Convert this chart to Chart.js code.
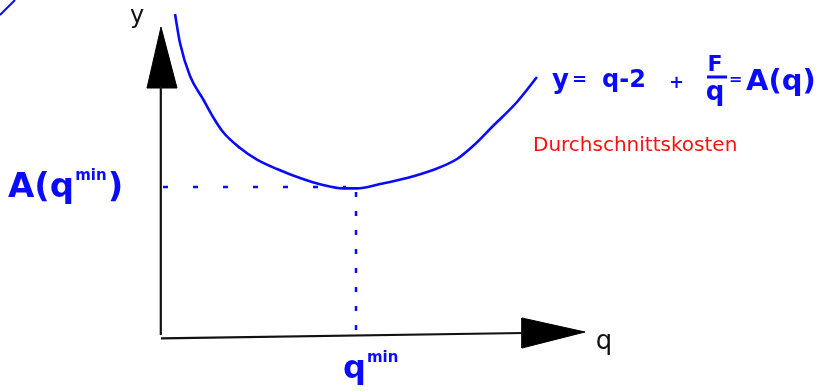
<!DOCTYPE html>
<html>
<head>
<meta charset="utf-8">
<script src="https://cdn.jsdelivr.net/npm/chart.js@4.4.0/dist/chart.umd.min.js"></script>
<style>
    html, body { margin: 0; padding: 0; background: #fff; }
    #wrap { width: 823px; height: 391px; position: relative; }
</style>
</head>
<body>
<div id="wrap"><canvas id="costChart"></canvas></div>
<script>
const curveQ = [0.75, 1.0, 1.5, 2.15, 2.65, 3.15, 4.0, 4.85, 5.85, 7.0, 8.15, 9.15, 9.85, 11.0, 12.35, 13.65, 14.85, 15.65, 16.65, 17.85, 18.85];
const curveA = [16.2, 14.75, 13.1, 11.95, 11.05, 10.3, 9.5, 8.92, 8.45, 8.0, 7.65, 7.48, 7.48, 7.7, 8.0, 8.4, 8.95, 9.6, 10.6, 11.8, 13.05];

const qMin = 9.8;
const aMin = 7.55;

// Achsen und Pfeilspitzen
const xAxisQ = [0.05, 18.2];
const xAxisY = [-0.02, 0.25];
const yAxisQ = [0.04, 0.04];
const yAxisY = [0.15, 12.6];
const xArrowQ = [21.25, 18.1, 18.1, 21.25];
const xArrowY = [0.3, 1.0, -0.5, 0.3];
const yArrowQ = [0.05, -0.65, 0.85, 0.05];
const yArrowY = [15.55, 12.5, 12.5, 15.55];

// kleiner Strich oben links
const strokeQ = [-8, -7.25];
const strokeY = [16.15, 16.9];

const toPoints = (xs, ys) => xs.map((v, i) => ({ x: v, y: ys[i] }));

const BLUE = '#0a0aff';
const RED = '#ff1010';
const INK = '#111111';
const HAND = '"DejaVu Sans", sans-serif';

// Beschriftungen (Position in Einheiten)
const labels = [
    { x: -1.15, y: 16.05, align: 'center', color: INK, parts: [{ t: 'y', size: 24, weight: 'normal' }] },
    { x: 22.2, y: -0.2, align: 'center', color: INK, parts: [{ t: 'q', size: 26, weight: 'normal' }] },
    { x: -7.6, y: 7.5, color: BLUE, parts: [{ t: 'A(q', size: 34 }, { t: 'min', size: 15, up: 12 }, { t: ')', size: 34 }] },
    { x: 9.15, y: -1.6, color: BLUE, parts: [{ t: 'q', size: 32 }, { t: 'min', size: 15, up: 12 }] },
    { x: 19.6, y: 12.85, color: BLUE, parts: [{ t: 'y', size: 26 }] },
    { x: 20.6, y: 12.9, color: BLUE, parts: [{ t: '=', size: 18 }] },
    { x: 22.1, y: 12.85, color: BLUE, parts: [{ t: 'q-2', size: 24 }] },
    { x: 25.45, y: 12.75, color: BLUE, parts: [{ t: '+', size: 18 }] },
    { x: 27.75, y: 13.65, align: 'center', color: BLUE, parts: [{ t: 'F', size: 22 }] },
    { x: 27.75, y: 12.25, align: 'center', color: BLUE, parts: [{ t: 'q', size: 26 }] },
    { x: 28.45, y: 12.9, color: BLUE, parts: [{ t: '=', size: 16 }] },
    { x: 29.3, y: 12.8, color: BLUE, parts: [{ t: 'A(q)', size: 29 }] },
    { x: 18.65, y: 9.6, color: RED, maxW: 210, parts: [{ t: 'Durchschnittskosten', size: 20, weight: 'normal' }] }
];
const fractionBar = { x1: 27.35, x2: 28.35, y: 13.05 };

const sketchLabels = {
    id: 'sketchLabels',
    afterDatasetsDraw(chart) {
        const { ctx, scales: { x, y } } = chart;
        ctx.save();
        ctx.textBaseline = 'middle';
        labels.forEach(l => {
            let px = x.getPixelForValue(l.x);
            const py = y.getPixelForValue(l.y);
            ctx.fillStyle = l.color;
            if (l.align === 'center') {
                const p = l.parts[0];
                ctx.font = `${p.weight || 'bold'} ${p.size}px ${HAND}`;
                ctx.textAlign = 'center';
                ctx.fillText(p.t, px, py);
                return;
            }
            ctx.textAlign = 'left';
            l.parts.forEach(p => {
                ctx.font = `${p.weight || 'bold'} ${p.size}px ${HAND}`;
                const w = l.maxW ? Math.min(ctx.measureText(p.t).width, l.maxW) : ctx.measureText(p.t).width;
                if (l.maxW) ctx.fillText(p.t, px, py - (p.up || 0), l.maxW);
                else ctx.fillText(p.t, px, py - (p.up || 0));
                px += w + 1;
            });
        });
        // Bruchstrich F/q
        ctx.strokeStyle = BLUE;
        ctx.lineWidth = 3;
        ctx.beginPath();
        ctx.moveTo(x.getPixelForValue(fractionBar.x1), y.getPixelForValue(fractionBar.y));
        ctx.lineTo(x.getPixelForValue(fractionBar.x2), y.getPixelForValue(fractionBar.y));
        ctx.stroke();
        ctx.restore();
    }
};

const ctx = document.getElementById('costChart').getContext('2d');

const chart = new Chart(ctx, {
    type: 'line',
    data: {
        datasets: [
            {
                label: 'A(q)',
                data: toPoints(curveQ, curveA),
                borderColor: BLUE,
                borderWidth: 2.6,
                cubicInterpolationMode: 'monotone',
                pointRadius: 0
            },
            {
                label: 'A(qmin)',
                data: toPoints([0.15, qMin - 0.5], [aMin, aMin]),
                borderColor: BLUE,
                borderWidth: 2.5,
                borderDash: [5, 25],
                pointRadius: 0
            },
            {
                label: 'qmin',
                data: toPoints([qMin, qMin], [aMin - 0.25, 0.25]),
                borderColor: BLUE,
                borderWidth: 2.5,
                borderDash: [5, 14],
                pointRadius: 0
            },
            {
                label: 'x-Achse',
                data: toPoints(xAxisQ, xAxisY),
                borderColor: INK,
                borderWidth: 2.2,
                pointRadius: 0
            },
            {
                label: 'y-Achse',
                data: toPoints(yAxisQ, yAxisY),
                borderColor: INK,
                borderWidth: 2.2,
                pointRadius: 0
            },
            {
                label: 'x-Pfeil',
                data: toPoints(xArrowQ, xArrowY),
                borderColor: '#000',
                backgroundColor: '#000',
                borderWidth: 1,
                fill: 'shape',
                pointRadius: 0
            },
            {
                label: 'y-Pfeil',
                data: toPoints(yArrowQ, yArrowY),
                borderColor: '#000',
                backgroundColor: '#000',
                borderWidth: 1,
                fill: 'shape',
                pointRadius: 0
            },
            {
                label: 'Strich',
                data: toPoints(strokeQ, strokeY),
                borderColor: BLUE,
                borderWidth: 2,
                pointRadius: 0
            }
        ]
    },
    options: {
        responsive: true,
        maintainAspectRatio: false,
        animation: false,
        layout: { padding: 0, autoPadding: false },
        plugins: {
            legend: { display: false },
            tooltip: { enabled: false },
            title: { display: false }
        },
        scales: {
            x: { type: 'linear', min: -8, max: 33.15, display: false },
            y: { type: 'linear', min: -2.65, max: 16.9, display: false }
        }
    },
    plugins: [sketchLabels]
});
</script>
</body>
</html>
